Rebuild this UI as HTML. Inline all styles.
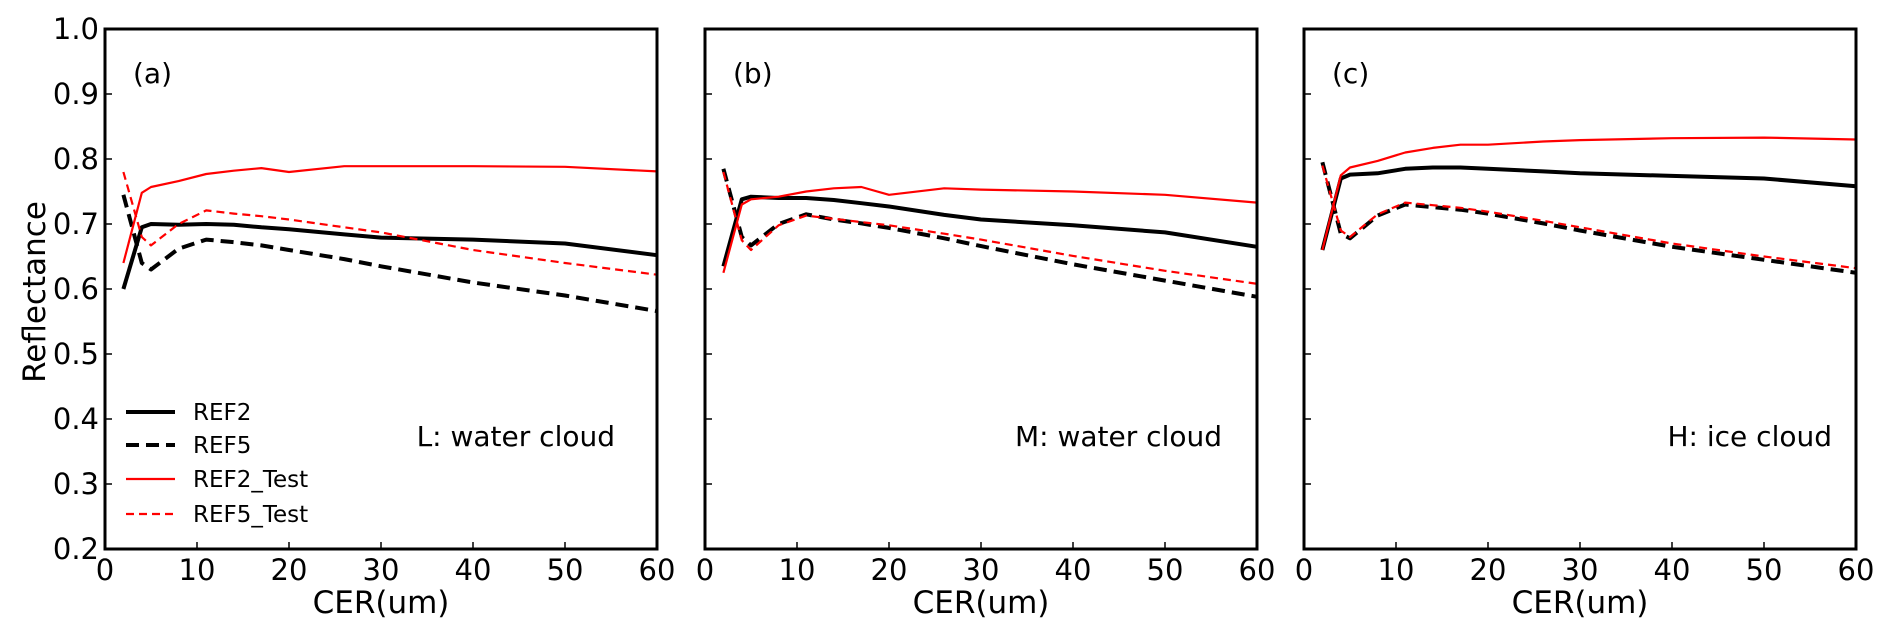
<!DOCTYPE html>
<html><head><meta charset="utf-8"><style>
body{margin:0;background:#fff;}
svg{display:block;font-family:"DejaVu Sans","Liberation Sans",sans-serif;}
</style></head><body>
<svg id="chart" width="1892" height="636" viewBox="0 0 1892 636" xmlns="http://www.w3.org/2000/svg"></svg>
<script>
const xVals=[2,4,5,8,11,14,17,20,26,30,40,50,60];
const xTicks=[0,10,20,30,40,50,60];
const yTicks=[0.2,0.3,0.4,0.5,0.6,0.7,0.8,0.9,1.0];
const panelNames=["(a)","(b)","(c)"];
const panelNotes=["L: water cloud","M: water cloud","H: ice cloud"];
const seriesNames=["REF2","REF5","REF2_Test","REF5_Test"];
const aREF2=[0.60,0.695,0.70,0.699,0.70,0.699,0.695,0.692,0.684,0.679,0.676,0.67,0.652];
const aREF5=[0.745,0.64,0.63,0.662,0.676,0.672,0.667,0.660,0.646,0.635,0.61,0.59,0.566];
const aREF2T=[0.64,0.748,0.757,0.766,0.777,0.782,0.786,0.780,0.789,0.789,0.789,0.788,0.781];
const aREF5T=[0.78,0.68,0.667,0.700,0.721,0.716,0.712,0.707,0.695,0.687,0.66,0.64,0.622];
const bREF2=[0.635,0.738,0.742,0.740,0.740,0.737,0.732,0.727,0.714,0.707,0.698,0.687,0.665];
const bREF5=[0.785,0.68,0.667,0.70,0.715,0.707,0.701,0.694,0.678,0.666,0.638,0.613,0.588];
const bREF2T=[0.625,0.73,0.738,0.742,0.750,0.755,0.757,0.745,0.755,0.753,0.75,0.745,0.733];
const bREF5T=[0.78,0.675,0.66,0.698,0.713,0.708,0.703,0.698,0.685,0.676,0.651,0.628,0.608];
const cREF2=[0.66,0.77,0.776,0.778,0.785,0.787,0.787,0.785,0.781,0.778,0.774,0.770,0.758];
const cREF5=[0.795,0.685,0.678,0.713,0.73,0.726,0.722,0.716,0.701,0.69,0.665,0.645,0.625];
const cREF2T=[0.66,0.775,0.787,0.797,0.81,0.817,0.822,0.822,0.827,0.829,0.832,0.833,0.830];
const cREF5T=[0.79,0.69,0.68,0.715,0.733,0.729,0.725,0.719,0.705,0.695,0.67,0.65,0.632];

const panelData=[[aREF2,aREF5,aREF2T,aREF5T],[bREF2,bREF5,bREF2T,bREF5T],[cREF2,cREF5,cREF2T,cREF5T]];
const styles=[{c:"#000",w:4,d:""},{c:"#000",w:4,d:"13,7"},{c:"#f00",w:2.2,d:""},{c:"#f00",w:2.2,d:"8,5"}];
const lefts=[105,705,1304];
const noteEnds=[615,1222,1832];
const W=552, TOP=29, BOT=549;
const NS="http://www.w3.org/2000/svg";
const svg=document.getElementById('chart');
function mk(tag,attrs,parent){const e=document.createElementNS(NS,tag);for(const k in attrs)e.setAttribute(k,attrs[k]);(parent||svg).appendChild(e);return e;}
const yScale=v=>BOT-(v-0.2)/0.8*(BOT-TOP);

panelData.forEach((series,p)=>{
  const L=lefts[p];
  const xScale=v=>L+v/60*W;
  const g=mk('g',{});
  
  
  series.forEach((vals,s)=>{
    const pts=vals.map((v,i)=>xScale(xVals[i]).toFixed(1)+','+yScale(v).toFixed(1)).join(' ');
    const pl=mk('polyline',{points:pts,fill:'none',stroke:styles[s].c,'stroke-width':styles[s].w,'stroke-dasharray':styles[s].d,'stroke-linejoin':'round'},g);
    
    
  });
  const fr=mk('rect',{x:L,y:TOP,width:W,height:BOT-TOP,fill:'none',stroke:'#000','stroke-width':3},g);
  
  
  xTicks.forEach(t=>{
    const x=xScale(t);
    mk('line',{x1:x,x2:x,y1:BOT,y2:BOT-7,stroke:'#000','stroke-width':1.5},g);
    const tx=mk('text',{x:x,y:580,'font-size':29,'text-anchor':'middle',fill:'#000'},g);
    tx.textContent=t;
    
    
  });
  yTicks.forEach(t=>{
    const y=yScale(t);
    mk('line',{x1:L,x2:L+7,y1:y,y2:y,stroke:'#000','stroke-width':1.5},g);
    if(p===0){
      const ty=mk('text',{x:99,y:y+10,'font-size':29,'text-anchor':'end',fill:'#000'},g);
      ty.textContent=t.toFixed(1);
      
      
    }
  });
  const xt=mk('text',{x:L+W/2,y:613,'font-size':31,'text-anchor':'middle',fill:'#000'},g);
  xt.textContent='CER(um)';
  
  
  const pn=mk('text',{x:L+28,y:83,'font-size':28,fill:'#000'},g);
  pn.textContent=panelNames[p];
  
  
  const nt=mk('text',{x:noteEnds[p],y:446,'font-size':28,'text-anchor':'end',fill:'#000'},g);
  nt.textContent=panelNotes[p];
  
  
});
const yt=mk('text',{x:0,y:0,'font-size':31,'text-anchor':'middle',fill:'#000',transform:'translate(45,292) rotate(-90)'});
yt.textContent='Reflectance';


const lg=mk('g',{});


const legY=[412,445,479,514];
seriesNames.forEach((n,i)=>{
  mk('line',{x1:126,x2:175,y1:legY[i],y2:legY[i],stroke:styles[i].c,'stroke-width':styles[i].w,'stroke-dasharray':styles[i].d},lg);
  const t=mk('text',{x:193,y:legY[i]+8,'font-size':23,fill:'#000'},lg);
  t.textContent=n;
  
  
});
</script>
</body></html>
